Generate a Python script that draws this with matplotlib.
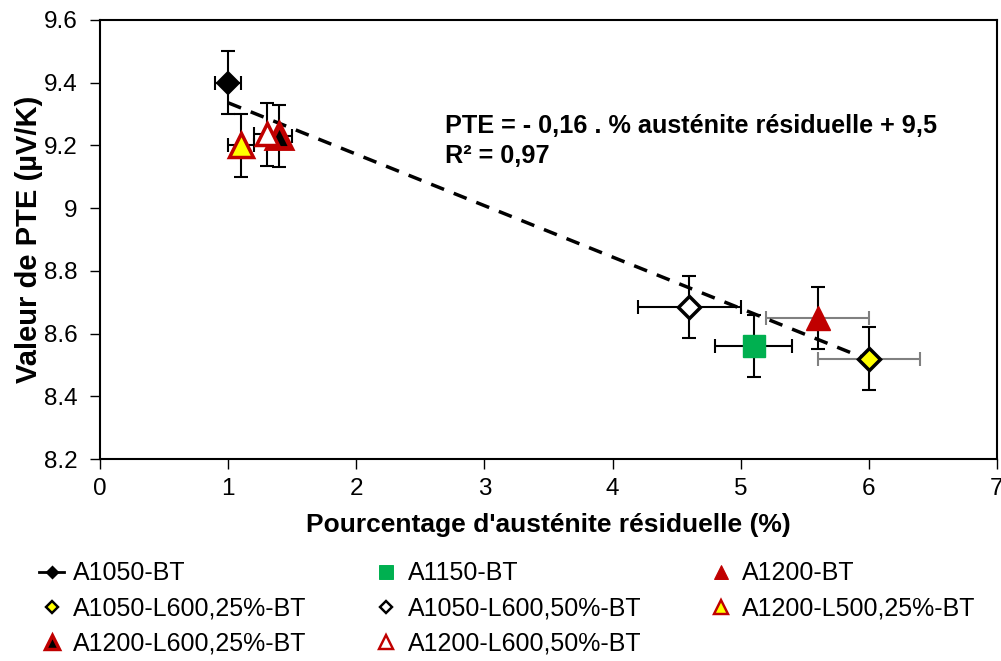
import numpy as np
import matplotlib
matplotlib.use('Agg')
import matplotlib.pyplot as plt
from matplotlib.lines import Line2D

plt.rcParams['font.family'] = ['Liberation Sans', 'DejaVu Sans']

# series, in plotting order
names = ['A1050-BT', 'A1150-BT', 'A1200-BT', 'A1050-L600,25%-BT', 'A1050-L600,50%-BT',
         'A1200-L500,25%-BT', 'A1200-L600,25%-BT', 'A1200-L600,50%-BT']
austenite = [1.0, 5.1, 5.6, 6.0, 4.6, 1.1, 1.4, 1.3]
pte = [9.40, 8.56, 8.65, 8.52, 8.685, 9.20, 9.23, 9.235]
x_err = [0.1, 0.3, 0.4, 0.4, 0.4, 0.1, 0.1, 0.1]
y_err = [0.1, 0.1, 0.1, 0.1, 0.1, 0.1, 0.1, 0.1]

# trend line (from the chart equation)
fit_slope = -0.164
fit_intercept = 9.5
fit_x = [1.0, 6.0]

# marker styles: marker, face, edge, size, edge width, x errorbar colour
styles = [
    ('D', 'black', 'black', 11, 1.5, 'black'),
    ('s', '#00b050', '#00b050', 16, 1.0, 'black'),
    ('^', '#c00000', '#c00000', 17, 1.0, '#808080'),
    ('D', '#ffff00', 'black', 11, 2.5, '#808080'),
    ('D', 'white', 'black', 11, 2.5, 'black'),
    ('^', '#ffff00', '#c00000', 17, 2.5, 'black'),
    ('^', 'black', '#c00000', 17, 3.5, 'black'),
    ('^', 'white', '#c00000', 16, 2.5, 'black'),
]

fig = plt.figure(figsize=(10.01, 6.61), dpi=100)
ax = fig.add_axes([100 / 1001, 1 - 459 / 661, 897 / 1001, 439 / 661])

handles = []
for i in range(len(names)):
    mk, fc, ec, ms, mew, xc = styles[i]
    # y error bars
    ax.errorbar(austenite[i], pte[i], yerr=y_err[i], fmt='none', ecolor='black',
                elinewidth=1.5, capsize=5, capthick=1.5, zorder=2)
    # x error bars
    ax.errorbar(austenite[i], pte[i], xerr=x_err[i], fmt='none', ecolor=xc,
                elinewidth=1.5, capsize=5, capthick=1.5, zorder=2)
    ax.plot(austenite[i], pte[i], linestyle='none', marker=mk, markerfacecolor=fc,
            markeredgecolor=ec, markersize=ms, markeredgewidth=mew, zorder=3)
    ls = '-' if i == 0 else 'none'
    handles.append(Line2D([], [], color='black', linestyle=ls, linewidth=2, marker=mk,
                          markerfacecolor=fc, markeredgecolor=ec,
                          markersize=ms * 0.6, markeredgewidth=mew * 0.7))

fx = np.array(fit_x)
ax.plot(fx, fit_slope * fx + fit_intercept, linestyle=(0, (4, 3)), color='black',
        linewidth=2.5, zorder=2.5)

ax.text(2.69, 9.215, 'PTE = - 0,16 . % austénite résiduelle + 9,5\nR² = 0,97',
        fontsize=18.2, fontweight='bold', va='center', linespacing=1.3)

ax.set_xlim(0, 7)
ax.set_ylim(8.2, 9.6)
ax.set_xticks(range(0, 8))
ax.set_yticks([8.2, 8.4, 8.6, 8.8, 9.0, 9.2, 9.4, 9.6])
ax.set_yticklabels(['8.2', '8.4', '8.6', '8.8', '9', '9.2', '9.4', '9.6'])
ax.tick_params(direction='out', length=7, width=1, labelsize=17.5, colors='black')
ax.tick_params(axis='x', pad=7)
ax.tick_params(axis='y', pad=9)
for s in ax.spines.values():
    s.set_linewidth(1.5)
ax.set_xlabel("Pourcentage d'austénite résiduelle (%)", fontsize=19, fontweight='bold',
              labelpad=9)
ax.set_ylabel('Valeur de PTE (µV/K)', fontsize=21, fontweight='bold', labelpad=1)

# legend fills column-wise: reorder so rows read like the original
order = [0, 3, 6, 1, 4, 7, 2, 5]
fig.legend([handles[k] for k in order], [names[k] for k in order], ncol=3,
           loc='upper left', bbox_to_anchor=(0.0165, 0.1846), frameon=False, fontsize=18,
           handlelength=1.0, handletextpad=0.35, columnspacing=2.7, labelspacing=0.45)

fig.savefig('out.png', dpi=100)
